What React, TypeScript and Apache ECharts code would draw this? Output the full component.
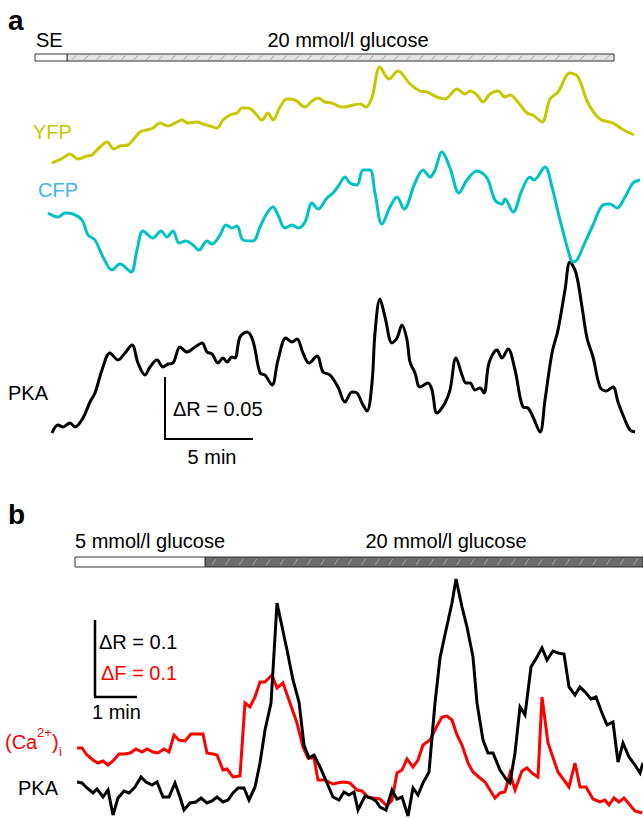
import React, { useEffect, useRef } from "react";
import * as echarts from "echarts";

const FONT = '"Liberation Sans", Arial, Helvetica, sans-serif';

// Panel a: [time (a.u.), signal (a.u.)]
const yfpA = [[4,277],[15,282],[22,286],[30,281],[39,284],[44,285],[52,293],[59,298],[66,291],[72,294],[80,295],[85,300],[92,308],[99,310],[105,312],[112,317],[120,314],[127,317],[134,320],[140,317],[149,318],[155,316],[162,314],[169,312],[175,320],[182,325],[189,327],[194,332],[200,332],[207,327],[214,320],[220,327],[225,320],[232,333],[239,341],[247,340],[257,333],[264,339],[270,342],[277,338],[284,337],[290,334],[295,333],[312,336],[318,333],[324,343],[332,373],[341,361],[350,369],[362,356],[372,349],[379,348],[389,343],[397,341],[409,351],[417,346],[422,349],[429,345],[435,338],[442,346],[450,349],[457,343],[462,345],[469,339],[479,327],[485,325],[494,318],[502,341],[510,348],[522,367],[530,363],[540,337],[552,321],[565,317],[574,311],[586,305]];

const cfpA = [[0,227],[10,223],[17,227],[25,226],[34,220],[40,205],[47,200],[55,183],[64,170],[72,176],[83,168],[89,190],[95,209],[105,202],[113,209],[119,203],[125,209],[131,197],[138,199],[145,195],[151,190],[159,199],[164,196],[172,205],[178,215],[184,212],[189,214],[195,200],[205,199],[212,213],[219,227],[225,233],[230,225],[237,212],[244,215],[250,212],[257,218],[264,237],[270,231],[279,242],[285,247],[291,255],[297,263],[302,257],[309,255],[315,270],[322,270],[327,247],[334,216],[342,233],[349,243],[356,231],[367,257],[375,270],[382,263],[387,270],[394,288],[402,272],[411,247],[419,260],[429,269],[439,262],[447,240],[454,236],[457,241],[465,228],[474,250],[482,263],[486,260],[497,273],[504,253],[510,228],[522,183],[525,178],[529,180],[535,193],[545,215],[555,235],[562,236],[569,232],[577,243],[585,257],[592,260]];

const pkaA = [[4,7],[10,15],[15,13],[22,17],[27,13],[35,22],[42,38],[47,47],[54,70],[62,87],[70,80],[77,87],[84,95],[90,77],[97,65],[102,73],[109,80],[115,73],[120,76],[125,77],[132,93],[139,88],[147,93],[154,97],[159,88],[164,86],[170,77],[175,82],[179,78],[184,83],[187,82],[192,103],[199,108],[205,99],[212,67],[217,65],[224,55],[230,80],[238,102],[244,98],[249,101],[255,87],[261,77],[269,84],[275,68],[282,65],[290,53],[297,38],[304,48],[309,47],[314,37],[319,29],[324,57],[327,107],[332,141],[337,123],[344,97],[349,102],[354,115],[359,100],[362,78],[367,67],[372,53],[380,57],[384,50],[389,27],[397,37],[402,50],[408,82],[414,65],[418,57],[422,57],[427,50],[432,52],[436,47],[441,77],[449,90],[454,82],[460,91],[467,70],[475,33],[480,32],[485,23],[492,8],[497,40],[504,87],[510,110],[517,150],[522,178],[528,167],[534,133],[539,102],[545,83],[552,53],[558,49],[565,53],[570,38],[577,20],[582,10],[587,8]];

// Panel b
const caB = [[1,70],[6,70],[11,63],[17,58],[22,55],[27,57],[32,53],[37,57],[43,64],[49,64],[54,65],[60,69],[66,66],[71,69],[77,66],[82,65],[88,69],[93,66],[98,83],[103,78],[109,77],[115,84],[121,84],[127,84],[131,65],[137,64],[141,63],[147,48],[151,49],[157,41],[164,42],[169,115],[174,111],[179,121],[184,136],[189,136],[196,143],[201,130],[207,135],[214,115],[221,95],[227,71],[232,60],[238,60],[242,38],[249,38],[257,34],[261,35],[267,36],[274,35],[281,28],[286,27],[292,21],[297,20],[304,19],[311,12],[316,18],[321,45],[326,48],[331,59],[337,51],[342,58],[347,73],[354,78],[361,92],[366,101],[371,102],[376,98],[381,83],[386,73],[392,55],[397,46],[404,40],[409,36],[414,28],[419,20],[424,25],[429,26],[434,45],[439,28],[446,47],[451,50],[456,45],[462,41],[466,121],[472,75],[482,46],[493,31],[499,55],[504,31],[510,31],[517,19],[524,16],[529,18],[533,13],[538,20],[543,16],[548,20],[554,13],[559,7],[566,5]];

const pkaB = [[1,36],[6,35],[11,30],[17,25],[21,29],[27,21],[32,28],[37,3],[42,20],[48,27],[53,25],[59,31],[65,41],[70,36],[76,33],[81,36],[87,21],[93,21],[99,35],[104,21],[108,8],[114,15],[120,16],[125,20],[131,15],[136,17],[141,21],[147,16],[152,18],[157,25],[162,30],[168,30],[173,18],[179,31],[184,55],[189,88],[195,115],[197,148],[201,215],[211,168],[217,138],[223,116],[228,73],[233,60],[238,63],[244,51],[251,35],[257,21],[263,18],[268,26],[273,23],[278,26],[282,8],[289,22],[295,20],[300,17],[304,11],[310,8],[316,28],[321,19],[326,21],[332,2],[337,30],[342,23],[347,35],[353,46],[359,115],[364,160],[370,188],[376,215],[380,239],[386,211],[391,191],[397,161],[401,115],[407,78],[412,65],[417,65],[424,48],[430,39],[434,35],[439,65],[444,111],[449,103],[455,151],[461,161],[466,170],[471,158],[477,167],[482,165],[488,164],[493,131],[499,123],[504,131],[510,125],[515,119],[520,121],[526,105],[531,93],[537,96],[542,56],[547,75],[553,61],[559,53],[564,45],[567,55]];

const YFP_COLOR = "#c8c800";
const CFP_COLOR = "#00c2c2";
const RED = "#ff0000";

export default function App() {
  const ref = useRef<HTMLDivElement>(null);
  useEffect(() => {
    const chart = echarts.init(ref.current!, null, { renderer: "svg" });
    const g: any[] = [];
    const txt = (t: string, x: number, y: number, o: any = {}) => {
      g.push({
        type: "text", x, y, silent: true, z: 10,
        style: {
          text: t, fontFamily: FONT, fontSize: o.size || 20, fontWeight: o.weight || "normal",
          fill: o.color || "#000", align: o.align || "left", verticalAlign: "middle",
          textAlign: o.align || "left", textVerticalAlign: "middle",
        },
      });
    };
    const line = (x1: number, y1: number, x2: number, y2: number, color: string, w: number) => {
      g.push({ type: "line", silent: true, z: 5, shape: { x1, y1, x2, y2 }, style: { stroke: color, lineWidth: w } });
    };
    const rect = (x: number, y: number, w: number, h: number, fill: string, stroke: string) => {
      g.push({ type: "rect", silent: true, z: 4, shape: { x, y, width: w, height: h }, style: { fill, stroke, lineWidth: 1 } });
    };

    // Panel a
    txt("a", 8, 20, { size: 28, weight: "bold" });
    txt("SE", 36, 40);
    txt("20 mmol/l glucose", 348, 40, { align: "center" });
    rect(67, 54, 547, 7, "#e4e4e4", "#333");
    for (let x = 72; x < 611; x += 12.4) line(x, 59.5, x + 4, 55.5, "#8a8a8a", 0.8);
    rect(35, 54, 32, 7, "#fff", "#333");
    txt("YFP", 33, 132, { color: YFP_COLOR });
    txt("CFP", 38, 190, { color: "#45b4f0" });
    txt("PKA", 8, 393);
    line(165, 377, 165, 439, "#000", 2);
    line(164, 439, 253, 439, "#000", 2);
    txt("\u0394R = 0.05", 173, 409);
    txt("5 min", 212, 457, { align: "center" });

    // Panel b
    txt("b", 8, 514, { size: 28, weight: "bold" });
    txt("5 mmol/l glucose", 75, 541);
    txt("20 mmol/l glucose", 446, 541, { align: "center" });
    rect(205, 557, 438, 10, "#6c6c6c", "#333");
    for (let x = 212; x < 640; x += 13.6) line(x, 565, x + 4, 559, "#b8b8b8", 0.8);
    rect(75, 557, 130, 10, "#fff", "#333");
    line(95, 620, 95, 697, "#000", 2.5);
    line(94, 697, 137, 697, "#000", 2.5);
    txt("\u0394R = 0.1", 99, 642);
    txt("\u0394F = 0.1", 101, 673, { color: RED });
    txt("1 min", 92, 712);
    txt("(Ca", 5, 742, { color: RED });
    txt("2+", 37, 732, { color: RED, size: 13 });
    txt(")", 52, 742, { color: RED });
    txt("i", 59, 751, { color: RED, size: 13 });
    txt("PKA", 18, 788);

    const ax = (gi: number, max: number) => ({ type: "value", gridIndex: gi, min: 0, max, show: false });
    chart.setOption({
      animation: false,
      backgroundColor: "#fff",
      grid: [
        { left: 48, top: 60, width: 592, height: 380 },
        { left: 76, top: 570, width: 567, height: 248 },
      ],
      xAxis: [ax(0, 592), ax(1, 567)],
      yAxis: [ax(0, 380), ax(1, 248)],
      series: [
        { type: "line", name: "PKA a", xAxisIndex: 0, yAxisIndex: 0, data: pkaA, smooth: 0.35, showSymbol: false, lineStyle: { color: "#000", width: 3 }, z: 2 },
        { type: "line", name: "YFP", xAxisIndex: 0, yAxisIndex: 0, data: yfpA, smooth: 0.35, showSymbol: false, lineStyle: { color: YFP_COLOR, width: 3 }, z: 3 },
        { type: "line", name: "CFP", xAxisIndex: 0, yAxisIndex: 0, data: cfpA, smooth: 0.35, showSymbol: false, lineStyle: { color: CFP_COLOR, width: 3 }, z: 4 },
        { type: "line", name: "Ca", xAxisIndex: 1, yAxisIndex: 1, data: caB, showSymbol: false, lineStyle: { color: RED, width: 3, join: "miter" }, z: 2 },
        { type: "line", name: "PKA b", xAxisIndex: 1, yAxisIndex: 1, data: pkaB, showSymbol: false, lineStyle: { color: "#000", width: 3, join: "miter" }, z: 3 },
      ],
      graphic: g,
    });
    return () => chart.dispose();
  }, []);
  return <div ref={ref} style={{ position: "absolute", left: 0, top: 0, width: 643, height: 818, background: "#fff" }} />;
}
